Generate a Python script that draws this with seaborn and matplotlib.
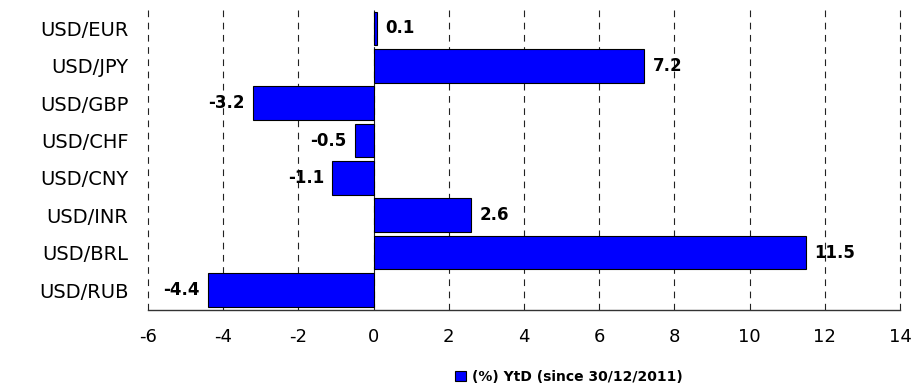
import matplotlib
matplotlib.use("Agg")
import matplotlib.pyplot as plt
import seaborn as sns

categories = ["USD/EUR", "USD/JPY", "USD/GBP", "USD/CHF", "USD/CNY", "USD/INR", "USD/BRL", "USD/RUB"]
values = [0.1, 7.2, -3.2, -0.5, -1.1, 2.6, 11.5, -4.4]
series_label = "(%) YtD (since 30/12/2011)"
xticks = [-6, -4, -2, 0, 2, 4, 6, 8, 10, 12, 14]

sns.set_style("white")
plt.rcParams["font.family"] = ["DejaVu Sans"]
plt.rcParams["text.color"] = "black"
plt.rcParams["xtick.color"] = "black"
plt.rcParams["ytick.color"] = "black"

fig = plt.figure(figsize=(9.16, 3.84), dpi=100)
ax = fig.add_axes([148 / 916, 1 - 310 / 384, (900 - 148) / 916, (310 - 9) / 384])

sns.barplot(x=values, y=categories, orient="h", color="#0000ff", saturation=1,
            edgecolor="black", linewidth=0.8, width=0.9, label=series_label, ax=ax)

for c in ax.containers:
    ax.bar_label(c, fmt="%.1f", padding=6, fontsize=12, fontweight="bold", color="black")

ax.set_xlim(-6, 14)
ax.set_ylim(7.535, -0.52)
ax.set_xticks(xticks)
ax.set_xticklabels([str(t) for t in xticks])
ax.set_xlabel("")
ax.set_ylabel("")
ax.grid(axis="x", linestyle=(0, (6, 5)), color="#222222", linewidth=0.8)
ax.grid(axis="y", visible=False)
for gl in ax.get_xgridlines():
    gl.set_clip_on(False)
ax.set_axisbelow(True)
for s in ["top", "right", "left"]:
    ax.spines[s].set_visible(False)
ax.spines["bottom"].set_color("#333333")
ax.spines["bottom"].set_linewidth(1.0)
ax.tick_params(axis="x", direction="inout", length=8, width=0.8, color="#333333",
               labelsize=13, pad=9, labelcolor="black")
ax.tick_params(axis="y", length=0, labelsize=14, pad=14, labelcolor="black")

handles, labels = ax.get_legend_handles_labels()
if ax.get_legend() is not None:
    ax.get_legend().remove()
fig.legend(handles[:1], labels[:1], loc="center", bbox_to_anchor=(569 / 916, 1 - 377 / 384),
           frameon=False, prop={"size": 10, "weight": "bold"},
           handlelength=0.8, handleheight=0.8, handletextpad=0.4, labelcolor="black")

fig.savefig("out.png", dpi=100)
